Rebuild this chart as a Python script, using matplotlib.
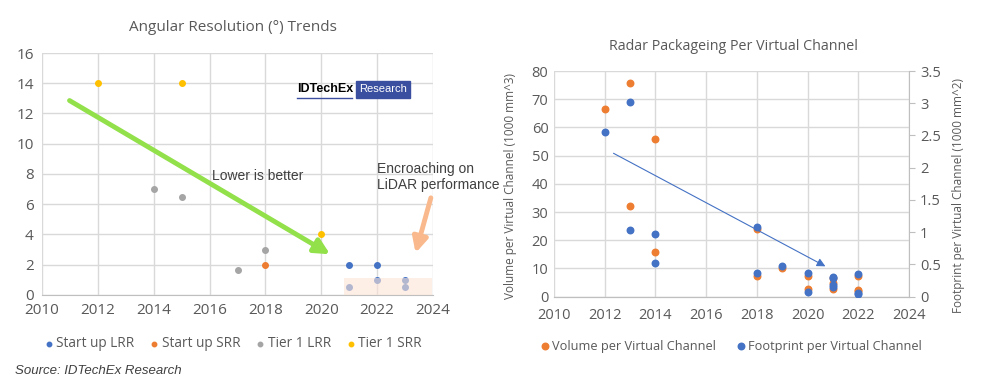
import matplotlib.pyplot as plt
from matplotlib.patches import Rectangle

# left chart data (angular resolution, degrees)
su_lrr_x = [2021, 2022, 2021, 2022, 2023, 2023]
su_lrr_y = [2, 2, 0.5, 1, 1, 0.5]
su_srr_x = [2018]
su_srr_y = [2]
t1_lrr_x = [2014, 2015, 2017, 2018]
t1_lrr_y = [7, 6.5, 1.65, 3]
t1_srr_x = [2012, 2015, 2020]
t1_srr_y = [14, 14, 4]

# right chart data
vol_x = [2012, 2013, 2013, 2014, 2014, 2018, 2018, 2019, 2020, 2020, 2021, 2021, 2021, 2022, 2022, 2022]
vol_y = [66.5, 75.7, 32, 56, 16, 24, 7.2, 10.3, 7.2, 2.6, 6.5, 5, 2.8, 7.2, 2.3, 2]
fp_x = [2012, 2013, 2013, 2014, 2014, 2018, 2018, 2019, 2020, 2020, 2021, 2021, 2021, 2021, 2022, 2022, 2022]
fp_y = [2.55, 3.02, 1.04, 0.98, 0.52, 1.085, 0.37, 0.48, 0.37, 0.066, 0.31, 0.29, 0.175, 0.15, 0.35, 0.06, 0.045]

BLUE = '#4472C4'
ORANGE = '#ED7D31'
GRAY = '#A5A5A5'
GOLD = '#FFC000'
TXT = '#595959'
GRID = '#D9D9D9'

plt.rcParams['font.family'] = ['Open Sans', 'DejaVu Sans']

fig = plt.figure(figsize=(10, 3.88), dpi=100)

# ---- left chart
ax1 = fig.add_axes([0.042, 0.2397, 0.391, 0.6237])
ax1.scatter(su_lrr_x, su_lrr_y, s=16, color=BLUE, zorder=3, label='Start up LRR')
ax1.scatter(su_srr_x, su_srr_y, s=16, color=ORANGE, zorder=3, label='Start up SRR')
ax1.scatter(t1_lrr_x, t1_lrr_y, s=16, color=GRAY, zorder=3, label='Tier 1 LRR')
ax1.scatter(t1_srr_x, t1_srr_y, s=16, color=GOLD, zorder=3, label='Tier 1 SRR')
ax1.add_patch(Rectangle((2020.8, 0), 3.15, 1.15, facecolor='#FCE4D6', alpha=0.6,
                        edgecolor='none', zorder=4))
ax1.set_xlim(2010, 2024)
ax1.set_ylim(0, 16)
ax1.set_xticks(range(2010, 2025, 2))
ax1.set_yticks(range(0, 17, 2))
ax1.grid(True, color=GRID, linewidth=1)
ax1.set_axisbelow(True)
for s in ['top', 'right', 'left']:
    ax1.spines[s].set_visible(False)
ax1.spines['bottom'].set_color('#BFBFBF')
ax1.tick_params(length=0, labelsize=11, colors=TXT, pad=6)
ax1.annotate('', xy=(2020.4, 2.6), xytext=(2010.9, 12.95),
             arrowprops=dict(arrowstyle='-|>,head_length=0.9,head_width=0.45',
                             color='#92E04A', lw=3.5), zorder=5)
ax1.annotate('', xy=(2023.35, 2.6), xytext=(2023.95, 6.6),
             arrowprops=dict(arrowstyle='-|>,head_length=0.9,head_width=0.45',
                             color='#F9B98C', lw=3.5), zorder=5)
ax1.text(2016.1, 8.3, 'Lower is better', fontsize=10, family='Liberation Sans',
         color='#404040', va='top')
ax1.text(2022.0, 8.8, 'Encroaching on\nLiDAR performance', fontsize=10,
         family='Liberation Sans', color='#404040', va='top', linespacing=1.15)
fig.text(0.233, 0.928, 'Angular Resolution (°) Trends', ha='center', va='center',
         fontsize=11, color=TXT)
ax1.legend(loc='upper center', bbox_to_anchor=(0.49, -0.12), ncol=4, frameon=False,
           fontsize=9.8, handlelength=0.5, handletextpad=0.3, columnspacing=1.2,
           markerscale=0.8, labelcolor=TXT)

# logo
fig.text(0.297, 0.770, 'IDTechEx', fontsize=9, weight='bold', family='Liberation Sans',
         color='black', va='center')
fig.add_artist(plt.Line2D([0.297, 0.352], [0.748, 0.748], color='#3B4FA0', lw=1))
fig.text(0.359, 0.770, 'Research', fontsize=8, family='Liberation Sans', color='white',
         va='center',
         bbox=dict(boxstyle='square,pad=0.3', facecolor='#3B4FA0', edgecolor='#3B4FA0'))

fig.text(0.015, 0.043, 'Source: IDTechEx Research', fontsize=9.5, style='italic',
         family='Liberation Sans', color='#404040', va='center')

# ---- right chart
ax2 = fig.add_axes([0.554, 0.2353, 0.355, 0.5817])
ax3 = ax2.twinx()
ax2.scatter(vol_x, vol_y, s=22, color=ORANGE, zorder=3, label='Volume per Virtual Channel')
ax3.scatter(fp_x, fp_y, s=22, color=BLUE, zorder=3, label='Footprint per Virtual Channel')
ax2.set_xlim(2010, 2024)
ax2.set_ylim(0, 80)
ax3.set_ylim(0, 3.5)
ax2.set_xticks(range(2010, 2025, 2))
ax2.set_yticks(range(0, 81, 10))
ax3.set_yticks([0, 0.5, 1, 1.5, 2, 2.5, 3, 3.5])
ax3.set_yticklabels(['0', '0.5', '1', '1.5', '2', '2.5', '3', '3.5'])
ax2.grid(True, color=GRID, linewidth=1)
ax2.set_axisbelow(True)
for a in (ax2, ax3):
    for s in ['top', 'left', 'right']:
        a.spines[s].set_visible(False)
    a.spines['bottom'].set_color('#BFBFBF')
ax3.spines['right'].set_visible(True)
ax3.spines['right'].set_color('#BFBFBF')
ax2.tick_params(axis='y', length=0, labelsize=10.5, colors=TXT, pad=4)
ax2.tick_params(axis='x', length=0, labelsize=10.5, colors=TXT, pad=8)
ax3.tick_params(axis='y', length=4, color='#BFBFBF', labelsize=10.5, colors=TXT, pad=4)
ax2.set_ylabel('Volume per Virtual Channel (1000 mm^3)', fontsize=8.5, color=TXT)
ax2.yaxis.set_label_coords(-0.105, 0.49)
ax3.set_ylabel('Footprint per Virtual Channel (1000 mm^2)', fontsize=8.5, color=TXT)
ax3.yaxis.set_label_coords(1.12, 0.45)
ax3.annotate('', xy=(2020.8, 10.3), xytext=(2012.25, 51.3), xycoords=ax2.transData,
             textcoords=ax2.transData,
             arrowprops=dict(arrowstyle='-|>,head_length=0.5,head_width=0.25',
                             color=BLUE, lw=0.8), zorder=5)
fig.text(0.733, 0.88, 'Radar Packageing Per Virtual Channel', ha='center', va='center',
         fontsize=10.3, color=TXT)
h2, l2 = ax2.get_legend_handles_labels()
h3, l3 = ax3.get_legend_handles_labels()
ax2.legend(h2 + h3, l2 + l3, loc='upper center', bbox_to_anchor=(0.5, -0.14), ncol=2,
           frameon=False, fontsize=9.2, handlelength=0.5, handletextpad=0.3,
           columnspacing=1.7, labelcolor=TXT)

fig.savefig('out.png', dpi=100)
